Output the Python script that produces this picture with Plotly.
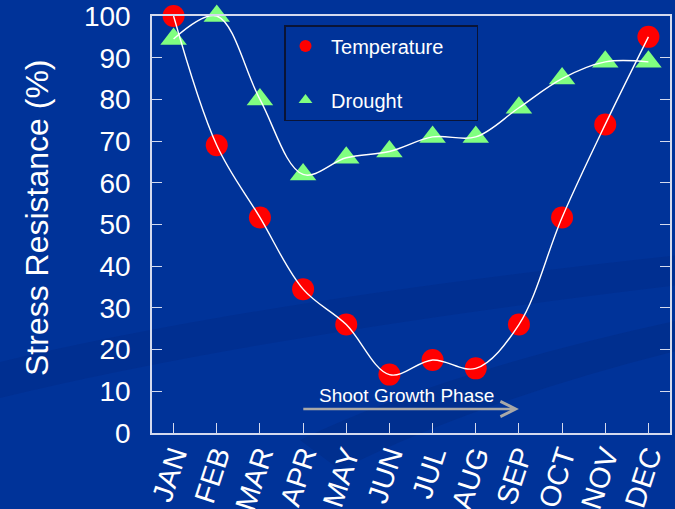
import plotly.graph_objects as go

# Monthly stress resistance (%)
months = ["JAN", "FEB", "MAR", "APR", "MAY", "JUN", "JUL", "AUG", "SEP", "OCT", "NOV", "DEC"]
temperature = [100, 69, 51.7, 34.5, 26, 14, 17.5, 15.5, 26, 51.7, 74, 95]
drought = [94.5, 100, 80, 62, 66, 67.5, 71, 71, 78, 85, 89, 89]
y_ticks = [0, 10, 20, 30, 40, 50, 60, 70, 80, 90, 100]

BG = "#003399"
AXIS = "#D4DAEE"
FONT = "Liberation Sans, Arial, sans-serif"

W, H = 675, 509
ML, MR, MT, MB = 152, 5, 16, 76
PW, PH = W - ML - MR, H - MT - MB
x_idx = list(range(len(months)))


def px(x, y):
    """Pixel position on the page -> paper coordinates."""
    return (x - ML) / PW, (H - MB - y) / PH


fig = go.Figure()

# markers first so that the smoothed curves sit on top of them
fig.add_trace(go.Scatter(
    x=x_idx, y=temperature, mode="markers",
    name="\u00a0Temperature\u00a0\u00a0\u00a0\u00a0\u00a0",
    legendgroup="t", cliponaxis=False,
    marker=dict(symbol="circle", size=22, color="#FF0000", line=dict(width=0)),
))
fig.add_trace(go.Scatter(
    x=x_idx, y=drought, mode="markers", name="\u00a0Drought",
    legendgroup="d", cliponaxis=False,
    marker=dict(symbol="triangle-up", size=23, color="#80FF80", line=dict(width=0)),
))
for series in (temperature, drought):
    fig.add_trace(go.Scatter(
        x=x_idx, y=series, mode="lines", showlegend=False, hoverinfo="skip",
        line=dict(color="white", width=1.4, shape="spline", smoothing=1.0),
    ))

# growth-phase arrow and caption
fig.add_annotation(
    x=8, y=5.75, ax=2.97, ay=5.75, xref="x", yref="y", axref="x", ayref="y",
    text="", showarrow=True, arrowhead=5, arrowsize=1.15, arrowwidth=2.6,
    arrowcolor="#A8A8A8",
)
fig.add_annotation(
    x=5.4, y=9.0, xref="x", yref="y", text="Shoot Growth Phase", showarrow=False,
    font=dict(family=FONT, size=19, color="white"), xanchor="center", yanchor="middle",
)

# y-axis title
tx, ty = px(37, 218)
fig.add_annotation(
    x=tx, y=ty, xref="paper", yref="paper",
    text="Stress Resistance (%)", textangle=-90, showarrow=False,
    font=dict(family=FONT, size=32, color="white"), xanchor="center", yanchor="middle",
)


# faint backdrop swooshes of the slide template
def band(upper, lower, color):
    pts_u = [px(*p) for p in upper]
    pts_l = [px(*p) for p in lower]
    path = "M {},{} Q {},{} {},{} ".format(*pts_u[0], *pts_u[1], *pts_u[2])
    path += "L {},{} Q {},{} {},{} Z".format(*pts_l[2], *pts_l[1], *pts_l[0])
    fig.add_shape(type="path", xref="paper", yref="paper", layer="below",
                  path=path, fillcolor=color, line=dict(width=0))


band([(0, 362), (260, 300), (680, 255)], [(0, 398), (260, 335), (680, 285)], "rgba(0,20,80,0.11)")
band([(300, 440), (440, 372), (680, 320)], [(340, 470), (480, 400), (680, 350)], "rgba(0,20,80,0.13)")

fig.update_layout(
    width=W, height=H,
    margin=dict(l=ML, r=MR, t=MT, b=MB, pad=0, autoexpand=False),
    paper_bgcolor=BG, plot_bgcolor="rgba(0,0,0,0)",
    font=dict(family=FONT, color="white"),
    showlegend=True,
    legend=dict(
        x=px(284, 0)[0], y=px(0, 25)[1],
        xanchor="left", yanchor="top",
        bgcolor=BG, bordercolor="#0A1436", borderwidth=1.5,
        font=dict(family=FONT, size=20, color="white"),
        itemsizing="constant", traceorder="grouped", tracegroupgap=25,
        itemwidth=30,
    ),
    xaxis=dict(
        range=[-0.5, 11.5], tickmode="array", tickvals=x_idx, ticktext=months,
        tickangle=-72, tickfont=dict(family=FONT, size=29, color="white"),
        ticks="inside", ticklen=10, tickcolor=AXIS, tickwidth=1.3,
        ticklabelstandoff=-8,
        showline=True, linecolor=AXIS, linewidth=1.5, mirror=True,
        showgrid=False, zeroline=False, fixedrange=True, automargin=False,
    ),
    yaxis=dict(
        range=[0, 100], tickmode="array", tickvals=y_ticks,
        tickfont=dict(family=FONT, size=28, color="white"),
        ticks="inside", ticklen=10, tickcolor=AXIS, tickwidth=1.3,
        ticklabelstandoff=14,
        showline=True, linecolor=AXIS, linewidth=1.5, mirror="ticks",
        showgrid=False, zeroline=False, fixedrange=True, automargin=False,
    ),
)

fig.write_html("out.html")
